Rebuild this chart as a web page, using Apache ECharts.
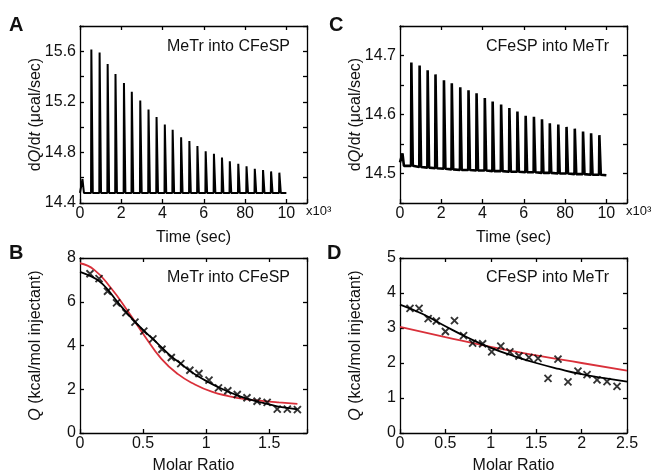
<!DOCTYPE html>
<html><head><meta charset="utf-8">
<script src="https://cdn.jsdelivr.net/npm/echarts@6/dist/echarts.min.js"></script>
<style>html,body{margin:0;padding:0;background:#fff}#c{width:654px;height:475px}</style>
</head><body><div id="c"></div>
<script>
// ---------- DATA ----------
// Panel A / C: injection times (x10^3 s), peak heights (µcal/sec)
const injTimes = [0.55, 0.95, 1.34, 1.72, 2.13, 2.51, 2.92, 3.32, 3.71, 4.11, 4.49, 4.90,
                  5.30, 5.69, 6.09, 6.49, 6.88, 7.26, 7.67, 8.07, 8.47, 8.87, 9.26, 9.66];
const firstInjTime = 0.12;
const traceEndTime = 10.0;

const peaksA = [15.615, 15.59, 15.50, 15.42, 15.35, 15.28, 15.21, 15.14, 15.08, 15.02, 14.98, 14.92,
                14.89, 14.85, 14.81, 14.79, 14.76, 14.73, 14.71, 14.69, 14.67, 14.66, 14.65, 14.64];
const firstPeakA = 14.59;
const baselineA = 14.48;

const peaksC = [14.688, 14.683, 14.675, 14.668, 14.658, 14.653, 14.646, 14.641, 14.636, 14.628, 14.622, 14.617,
                14.611, 14.605, 14.598, 14.596, 14.592, 14.585, 14.583, 14.579, 14.576, 14.571, 14.568, 14.565];
const firstPeakC = 14.534;
const startBaseC = 14.519;
const basesC = [14.513, 14.511, 14.510, 14.509, 14.508, 14.507, 14.506, 14.506, 14.505, 14.505, 14.504, 14.504,
                14.503, 14.503, 14.502, 14.502, 14.501, 14.501, 14.500, 14.500, 14.499, 14.499, 14.498, 14.498];
const endBaseC = 14.497;

// Panel B: MeTr into CFeSP (molar ratio, kcal/mol injectant)
const ratioB = [0.079, 0.151, 0.218, 0.29, 0.364, 0.436, 0.506, 0.578, 0.65, 0.724, 0.799, 0.871,
                0.943, 1.023, 1.098, 1.172, 1.247, 1.324, 1.404, 1.484, 1.564, 1.644, 1.724];
const heatB  = [7.28, 7.06, 6.48, 5.95, 5.50, 5.07, 4.66, 4.30, 3.83, 3.45, 3.17, 2.87,
                2.72, 2.42, 2.06, 1.93, 1.76, 1.61, 1.45, 1.40, 1.09, 1.09, 1.07];
const fitBlackBx = [0, 0.084, 0.151, 0.218, 0.29, 0.364, 0.436, 0.506, 0.578, 0.65, 0.724, 0.799,
                    0.871, 0.943, 1.023, 1.098, 1.172, 1.247, 1.324, 1.404, 1.484, 1.564, 1.644, 1.724];
const fitBlackBy = [7.37, 7.17, 6.95, 6.57, 6.04, 5.54, 5.09, 4.68, 4.30, 3.90, 3.50, 3.17,
                    2.84, 2.57, 2.31, 2.09, 1.90, 1.72, 1.57, 1.44, 1.33, 1.22, 1.15, 1.08];
const fitRedBx = [0, 0.111, 0.244, 0.377, 0.511, 0.644, 0.777, 0.911, 1.044, 1.177, 1.311, 1.444, 1.577, 1.724];
const fitRedBy = [7.76, 7.47, 6.64, 5.59, 4.45, 3.40, 2.69, 2.22, 1.89, 1.69, 1.55, 1.47, 1.40, 1.33];

// Panel D: CFeSP into MeTr
const ratioD = [0.11, 0.21, 0.31, 0.40, 0.50, 0.60, 0.70, 0.80, 0.91, 1.01, 1.11, 1.21,
                1.31, 1.42, 1.52, 1.63, 1.74, 1.85, 1.96, 2.06, 2.17, 2.28, 2.39];
const heatD  = [3.56, 3.56, 3.27, 3.20, 2.90, 3.21, 2.78, 2.57, 2.55, 2.32, 2.48, 2.32,
                2.20, 2.16, 2.13, 1.56, 2.11, 1.46, 1.77, 1.67, 1.52, 1.47, 1.33];
const fitBlackDx = [0, 0.25, 0.5, 0.75, 1.0, 1.25, 1.5, 1.75, 2.0, 2.25, 2.5];
const fitBlackDy = [3.67, 3.40, 3.05, 2.72, 2.43, 2.20, 2.00, 1.83, 1.68, 1.57, 1.47];
const fitRedDx = [0, 0.5, 1.0, 1.5, 2.0, 2.5];
const fitRedDy = [3.03, 2.74, 2.46, 2.22, 2.00, 1.78];

// Tick labels
const timeTickValues = [0, 2, 4, 6, 8, 10];
const timeTickLabels = ['0', '2', '4', '6', '80', '10'];
const yTickA = [14.4, 14.8, 15.2, 15.6];
const yTickC = [14.5, 14.6, 14.7];

// ---------- BUILD ----------
const FONT = '"Liberation Sans", Arial, Helvetica, sans-serif';
const RISE = 0.015, DECAY = 0.07;
function trace(startBase, firstPeak, bases, peaks, endBase) {
  const d = [[0, startBase], [firstInjTime, firstPeak], [firstInjTime + DECAY, bases[0]]];
  for (let i = 0; i < injTimes.length; i++) {
    d.push([injTimes[i] - RISE, bases[i]], [injTimes[i], peaks[i]], [injTimes[i] + DECAY, bases[i]]);
  }
  d.push([traceEndTime, endBase]);
  return d;
}
const basesA = injTimes.map(() => baselineA);
const traceA = trace(baselineA, firstPeakA, basesA, peaksA, baselineA);
const traceC = trace(startBaseC, firstPeakC, basesC, peaksC, endBaseC);
const zip = (xs, ys) => xs.map((x, i) => [x, ys[i]]);

const grids = [
  {left: 80, top: 26, width: 227, height: 177},
  {left: 400, top: 26, width: 227, height: 177},
  {left: 80, top: 258, width: 227, height: 177},
  {left: 400, top: 258, width: 227, height: 177}
];
const lineS = {color: '#000', width: 1.3};
function axisPair(dim, gi, min, max, interval, fmt, name, nameGap, rich) {
  const main = {
    type: 'value', gridIndex: gi, min, max, interval,
    position: dim === 'x' ? 'bottom' : 'left',
    axisLine: {show: true, onZero: false, lineStyle: lineS},
    axisTick: {show: true, inside: true, length: 4, lineStyle: lineS},
    splitLine: {show: false},
    axisLabel: {show: true, color: '#111', fontSize: 16, fontFamily: FONT,
                margin: dim === 'x' ? 3 : 4, formatter: fmt, showMinLabel: true, showMaxLabel: true},
    name: name, nameLocation: 'middle', nameGap: nameGap, nameMoveOverlap: false,
    nameTextStyle: {color: '#111', fontSize: 16, fontFamily: FONT, rich: rich}
  };
  if (dim === 'y') main.nameRotate = 90;
  const mirror = {
    type: 'value', gridIndex: gi, min, max, interval,
    position: dim === 'x' ? 'top' : 'right',
    axisLine: {show: true, onZero: false, lineStyle: lineS},
    axisTick: {show: true, inside: true, length: 4, lineStyle: lineS},
    splitLine: {show: false}, axisLabel: {show: false}
  };
  return [main, mirror];
}
const near = (v, arr) => arr.some(a => Math.abs(a - v) < 1e-6);
const timeFmt = v => { const i = timeTickValues.findIndex(t => Math.abs(t - v) < 1e-6); return i >= 0 ? timeTickLabels[i] : ''; };
const fmtA = v => near(v, yTickA) ? v.toFixed(1) : '';
const fmtC = v => near(v, yTickC) ? v.toFixed(1) : '';
const fmtB = v => (v > 1.75 ? '' : String(+v.toFixed(2)));
const plain = v => String(+v.toFixed(2));

const richBase = {color: '#111', fontSize: 16, fontFamily: FONT};
const rich = {n: richBase, i: Object.assign({}, richBase, {fontStyle: 'italic'})};
const dqName = '{n|d}{i|Q}{n|/d}{i|t}{n| (μcal/sec)}';
const qName = '{i|Q}{n| (kcal/mol injectant)}';
const timeName = '{n|Time (sec)}';
const ratioName = '{n|Molar Ratio}';

const xAxes = [].concat(
  axisPair('x', 0, 0, 11, 2, timeFmt, timeName, 27, rich),
  axisPair('x', 1, 0, 11, 2, timeFmt, timeName, 27, rich),
  axisPair('x', 2, 0, 1.8, 0.5, fmtB, ratioName, 25, rich),
  axisPair('x', 3, 0, 2.5, 0.5, plain, ratioName, 25, rich)
);
const yAxes = [].concat(
  axisPair('y', 0, 14.4, 15.8, 0.2, fmtA, dqName, 36, rich),
  axisPair('y', 1, 14.45, 14.75, 0.05, fmtC, dqName, 36, rich),
  axisPair('y', 2, 0, 8, 2, plain, qName, 36, rich),
  axisPair('y', 3, 0, 5, 1, plain, qName, 36, rich)
);

const RED = '#d9303a';
const crossPath = 'path://M0,0L10,10M10,0L0,10';
function lineSeries(ax, data, color, width, smooth) {
  return {type: 'line', xAxisIndex: ax, yAxisIndex: ax, data, showSymbol: false, symbol: 'none',
          smooth: smooth, lineStyle: {color, width}, silent: true, animation: false, z: 3};
}
function scatterSeries(ax, data) {
  return {type: 'scatter', xAxisIndex: ax, yAxisIndex: ax, data, symbol: crossPath, symbolSize: 7,
          itemStyle: {color: 'none', borderColor: '#000', borderWidth: 1.9}, silent: true, animation: false, z: 4};
}

const series = [
  lineSeries(0, traceA, '#000', 2, false),
  lineSeries(2, traceC, '#000', 2.6, false),
  lineSeries(4, zip(fitRedBx, fitRedBy), RED, 1.8, true),
  lineSeries(4, zip(fitBlackBx, fitBlackBy), '#000', 1.8, true),
  scatterSeries(4, zip(ratioB, heatB)),
  lineSeries(6, zip(fitRedDx, fitRedDy), RED, 1.8, true),
  lineSeries(6, zip(fitBlackDx, fitBlackDy), '#000', 1.8, true),
  scatterSeries(6, zip(ratioD, heatD))
];

function txt(x, y, text, size, opts) {
  return {type: 'text', x, y, silent: true, z: 10,
          style: Object.assign({text, fill: '#111', fontSize: size, fontFamily: FONT,
                                align: 'left', verticalAlign: 'middle'}, opts || {})};
}
const graphic = [
  txt(9, 25, 'A', 20, {fontWeight: 'bold'}),
  txt(329, 25, 'C', 20, {fontWeight: 'bold'}),
  txt(9, 253, 'B', 20, {fontWeight: 'bold'}),
  txt(327, 253, 'D', 20, {fontWeight: 'bold'}),
  txt(290, 47, 'MeTr into CFeSP', 16, {align: 'right'}),
  txt(609, 47, 'CFeSP into MeTr', 16, {align: 'right'}),
  txt(290, 278, 'MeTr into CFeSP', 16, {align: 'right'}),
  txt(609, 278, 'CFeSP into MeTr', 16, {align: 'right'}),
  txt(306, 211, 'x10³', 13),
  txt(626, 211, 'x10³', 13)
];

const chart = echarts.init(document.getElementById('c'), null, {renderer: 'canvas'});
chart.setOption({
  animation: false,
  backgroundColor: '#fff',
  grid: grids,
  xAxis: xAxes,
  yAxis: yAxes,
  series: series,
  graphic: graphic
});
</script></body></html>
